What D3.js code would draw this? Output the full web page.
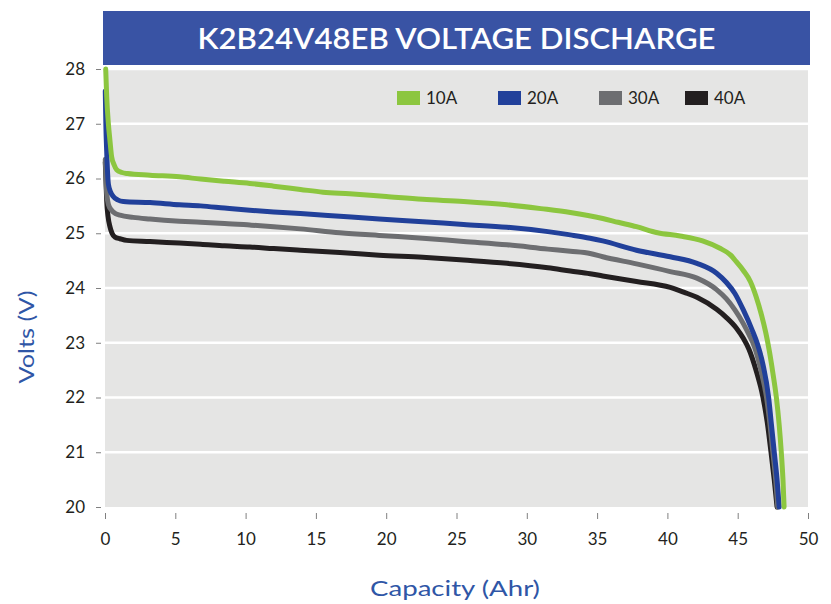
<!DOCTYPE html>
<html>
<head>
<meta charset="utf-8">
<script src="https://cdn.jsdelivr.net/npm/d3@7"></script>
<style>
  html, body { margin: 0; padding: 0; background: #ffffff; }
  svg { display: block; }
</style>
</head>
<body>
<svg id="chart" width="831" height="604"></svg>
<script>
// ---------- DATA ----------
const title = "K2B24V48EB VOLTAGE DISCHARGE";
const xLabel = "Capacity (Ahr)";
const yLabel = "Volts (V)";
const xTicks = [0, 5, 10, 15, 20, 25, 30, 35, 40, 45, 50];
const yTicks = [20, 21, 22, 23, 24, 25, 26, 27, 28];
const seriesNames = ["10A", "20A", "30A", "40A"];
const seriesColors = ["#8cc63f", "#21409a", "#6d6e71", "#231f20"];

// capacity (Ahr) / volts pairs
const cap10A = [0.05, 0.12, 0.24, 0.35, 0.47, 0.65, 0.83, 1.2, 1.6, 3.2, 5.3, 6.8, 8.5, 10.3, 12, 13.9, 15.5, 17.4, 20, 22.6, 25.5, 28.6, 31, 33.1, 35.4, 36.5, 37.8, 39.3, 40.9, 42.5, 43.7, 44.5, 44.9, 45.4, 45.9, 46.3, 46.7, 47.0, 47.25, 47.5, 47.75, 47.95, 48.1, 48.22, 48.3];
const volt10A = [28.0, 27.5, 27.0, 26.7, 26.4, 26.25, 26.16, 26.11, 26.09, 26.06, 26.03, 25.99, 25.95, 25.91, 25.86, 25.80, 25.75, 25.72, 25.67, 25.62, 25.58, 25.52, 25.45, 25.38, 25.27, 25.20, 25.12, 25.01, 24.95, 24.86, 24.73, 24.60, 24.48, 24.32, 24.12, 23.85, 23.5, 23.18, 22.85, 22.45, 22.0, 21.5, 21.0, 20.5, 20.0];

const cap20A = [0.02, 0.06, 0.12, 0.24, 0.4, 0.59, 0.9, 1.3, 3.2, 5.3, 6.8, 8.5, 10.3, 12, 13.9, 16.7, 19.5, 22.6, 25.5, 28.6, 31.5, 33.1, 34.5, 35.4, 37.8, 40.2, 42.1, 43.5, 44.2, 44.8, 45.4, 46.0, 46.4, 46.8, 47.2, 47.4, 47.6, 47.8, 47.95];
const volt20A = [27.6, 27.0, 26.5, 25.9, 25.75, 25.67, 25.61, 25.58, 25.56, 25.52, 25.50, 25.46, 25.42, 25.39, 25.36, 25.31, 25.26, 25.21, 25.16, 25.11, 25.03, 24.97, 24.91, 24.86, 24.69, 24.57, 24.45, 24.27, 24.10, 23.90, 23.60, 23.25, 22.98, 22.6, 22.0, 21.5, 21.0, 20.5, 20.0];

const cap30A = [0.02, 0.07, 0.12, 0.25, 0.47, 0.75, 1.07, 2, 3.2, 5.3, 6.8, 8.5, 10.3, 12, 13.9, 16.7, 19.5, 22.6, 25.5, 28.6, 31.5, 33.1, 34.5, 35.4, 37.8, 40.2, 42.1, 43.5, 44.2, 44.8, 45.4, 45.8, 46.2, 46.65, 47.05, 47.3, 47.5, 47.7, 47.85];
const volt30A = [26.35, 26.0, 25.73, 25.52, 25.42, 25.36, 25.33, 25.29, 25.26, 25.22, 25.20, 25.18, 25.15, 25.12, 25.08, 25.01, 24.96, 24.91, 24.85, 24.79, 24.71, 24.67, 24.63, 24.57, 24.44, 24.30, 24.18, 23.97, 23.80, 23.60, 23.35, 23.15, 22.92, 22.5, 22.0, 21.5, 21.0, 20.5, 20.0];

const cap40A = [0.02, 0.07, 0.12, 0.22, 0.35, 0.5, 0.71, 1.07, 1.54, 3.2, 5.3, 6.8, 8.5, 10.3, 12, 13.9, 16.7, 19.5, 22.6, 25.5, 28.6, 31.5, 33.1, 34.5, 35.4, 37.8, 40.2, 41.2, 42.1, 43.5, 44.2, 44.9, 45.4, 45.8, 46.3, 46.8, 47.1, 47.37, 47.6, 47.8];
const volt40A = [26.3, 25.95, 25.6, 25.3, 25.12, 25.0, 24.93, 24.90, 24.87, 24.85, 24.82, 24.80, 24.77, 24.75, 24.72, 24.69, 24.65, 24.60, 24.56, 24.51, 24.45, 24.37, 24.31, 24.26, 24.22, 24.12, 24.01, 23.92, 23.83, 23.61, 23.46, 23.27, 23.08, 22.88, 22.5, 22.0, 21.55, 21.0, 20.5, 20.0];

const capacities = [cap10A, cap20A, cap30A, cap40A];
const voltages = [volt10A, volt20A, volt30A, volt40A];

// ---------- LAYOUT ----------
const svg = d3.select("#chart");
const plotLeft = 105, plotRight = 808, plotTop = 69, plotBottom = 507;

const x = d3.scaleLinear().domain([0, 50]).range([plotLeft, plotRight]);
const y = d3.scaleLinear().domain([20, 28]).range([plotBottom, plotTop]);

const tickFont = "Lato, 'Noto Sans', sans-serif";
const blueText = "#2f56a6";

// plot background
svg.append("rect")
  .attr("x", x(0)).attr("y", y(28))
  .attr("width", x(50) - x(0)).attr("height", y(20) - y(28))
  .attr("fill", "#e5e5e4");

// gridlines
svg.append("g").selectAll("line")
  .data(yTicks.filter(d => d > 20))
  .join("line")
  .attr("x1", x(0)).attr("x2", x(50))
  .attr("y1", d => y(d)).attr("y2", d => y(d))
  .attr("stroke", "#ffffff").attr("stroke-width", 2.5);

// title bar
svg.append("rect")
  .attr("x", 103).attr("y", 11)
  .attr("width", 707).attr("height", 54)
  .attr("fill", "#3953a4");
svg.append("text")
  .attr("x", (plotLeft + plotRight) / 2).attr("y", 49)
  .attr("text-anchor", "middle")
  .attr("fill", "#ffffff")
  .attr("font-family", "Lato, 'Open Sans', sans-serif")
  .attr("font-size", 29)
  .attr("font-weight", 600)
  .attr("textLength", 518)
  .attr("lengthAdjust", "spacingAndGlyphs")
  .text(title);

// axes
const xAxis = d3.axisBottom(x).tickValues(xTicks).tickSize(6).tickPadding(14).tickFormat(d3.format("d"));
const gx = svg.append("g").attr("transform", `translate(0,${plotBottom + 6})`).call(xAxis);
gx.select(".domain").remove();
gx.selectAll(".tick line").attr("stroke", "#808080").attr("stroke-width", 1);
gx.selectAll(".tick text").attr("font-family", tickFont).attr("font-size", 17).attr("fill", "#231f20");

const yAxis = d3.axisLeft(y).tickValues(yTicks).tickSize(5).tickPadding(11).tickFormat(d3.format("d"));
const gy = svg.append("g").attr("transform", `translate(101,0)`).call(yAxis);
gy.select(".domain").remove();
gy.selectAll(".tick line").attr("stroke", "#808080").attr("stroke-width", 1);
gy.selectAll(".tick text").attr("font-family", tickFont).attr("font-size", 17).attr("fill", "#231f20");

// axis titles
svg.append("text")
  .attr("x", 455).attr("y", 596)
  .attr("text-anchor", "middle")
  .attr("fill", blueText)
  .attr("font-family", tickFont)
  .attr("font-size", 22)
  .attr("textLength", 170)
  .attr("lengthAdjust", "spacingAndGlyphs")
  .text(xLabel);
svg.append("text")
  .attr("transform", `translate(34,337) rotate(-90)`)
  .attr("text-anchor", "middle")
  .attr("fill", blueText)
  .attr("font-family", tickFont)
  .attr("font-size", 22)
  .attr("textLength", 93)
  .attr("lengthAdjust", "spacingAndGlyphs")
  .text(yLabel);

// lines
const line = d3.line()
  .x(d => x(d[0]))
  .y(d => y(d[1]))
  .curve(d3.curveMonotoneX);

const order = [3, 2, 1, 0];
svg.append("g").selectAll("path")
  .data(order)
  .join("path")
  .attr("d", i => line(capacities[i].map((c, k) => [c, voltages[i][k]])))
  .attr("fill", "none")
  .attr("stroke", i => seriesColors[i])
  .attr("stroke-width", 5)
  .attr("stroke-linecap", "round")
  .attr("stroke-linejoin", "round");

// legend
const legendX = [397, 498, 599, 685];
const lg = svg.append("g").selectAll("g")
  .data(seriesNames)
  .join("g")
  .attr("transform", (d, i) => `translate(${legendX[i]},91)`);
lg.append("rect")
  .attr("width", 23).attr("height", 14)
  .attr("fill", (d, i) => seriesColors[i]);
lg.append("text")
  .attr("x", 29).attr("y", 13)
  .attr("font-family", tickFont)
  .attr("font-size", 17)
  .attr("fill", "#231f20")
  .text(d => d);
</script>
</body>
</html>
